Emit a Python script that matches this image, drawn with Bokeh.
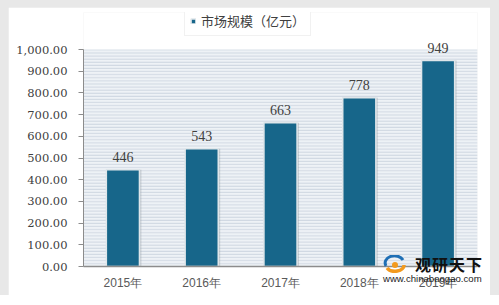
from bokeh.plotting import figure
from bokeh.models import (ColumnDataSource, NumeralTickFormatter, SingleIntervalTicker,
                          Legend, LegendItem, Range1d, Column, Div, BoxAnnotation)
from bokeh.transform import dodge
from bokeh.core.properties import value
from bokeh.embed import file_html
from bokeh.resources import INLINE

years = ["2015年", "2016年", "2017年", "2018年", "2019年"]
market = [446, 543, 663, 778, 949]
label_text = ["446", "543", "663", "778", "949"]
series_name = "市场规模（亿元）"
y_max = 1000

BAR = "#17668a"
src = ColumnDataSource(dict(x=years, top=market, lbl=label_text))

p = figure(x_range=years, y_range=Range1d(0, y_max * 254 / 217), width=482, height=290,
           output_backend="svg", toolbar_location=None,
           min_border_left=75, min_border_right=13, min_border_top=5, min_border_bottom=31)
p.border_fill_color = "white"
p.background_fill_color = "white"
p.outline_line_color = None

p.add_layout(BoxAnnotation(bottom=0, top=y_max, fill_color="#eef2f6", fill_alpha=1,
                           line_color=None, hatch_pattern="horizontal_line",
                           hatch_scale=3.1, hatch_color="#cfd8e1", hatch_weight=1,
                           level="underlay"))

# shadow
p.vbar(x=dodge("x", 0.025, range=p.x_range), top="top", width=0.42, source=src,
       fill_color="#8a949c", fill_alpha=0.35, line_color=None)
bars = p.vbar(x="x", top="top", width=0.42, source=src, fill_color=BAR,
              line_color="#dfe6ea", line_width=1.5)
p.text(x="x", y="top", text="lbl", source=src, text_align="center", text_baseline="bottom",
       y_offset=-8, text_font=value("Liberation Serif"), text_font_size="14px",
       text_color="#404040")

p.yaxis.ticker = SingleIntervalTicker(interval=100)
p.yaxis.bounds = (0, y_max)
p.yaxis.formatter = NumeralTickFormatter(format="0,0.00")
p.yaxis.major_label_text_font = "DejaVu Serif"
p.yaxis.major_label_text_font_size = "11.5px"
p.yaxis.major_label_text_color = "#404040"
p.yaxis.axis_line_color = "#8c8c8c"
p.yaxis.major_tick_line_color = "#8c8c8c"
p.yaxis.major_tick_out = 5
p.yaxis.major_tick_in = 0
p.yaxis.minor_tick_line_color = None
p.yaxis.major_label_standoff = 11

p.xaxis.axis_line_color = "#8c8c8c"
p.xaxis.axis_line_width = 1.5
p.xaxis.major_tick_line_color = None
p.xaxis.major_label_text_font = "Liberation Sans"
p.xaxis.major_label_text_font_size = "12px"
p.xaxis.major_label_text_color = "#595959"
p.xaxis.major_label_standoff = 3

p.xgrid.grid_line_color = None
p.ygrid.grid_line_color = None

legend = Legend(items=[LegendItem(label=series_name, renderers=[bars])],
                location=(101, 230), orientation="horizontal",
                label_text_font="Noto Sans CJK SC", label_text_font_size="13px",
                label_text_color="#404040", glyph_width=6, glyph_height=6,
                label_width=96, padding=5, margin=0, spacing=0, label_standoff=5,
                background_fill_color="white", border_line_color="#e4e4e4")
p.add_layout(legend, "center")

logo = (
    '<div style="display:flex;align-items:flex-start;font-family:\'Noto Sans CJK SC\';">'
    '<svg width="24" height="18" viewBox="0 0 24 18">'
    '<path d="M3 11 A9 7 0 0 1 20 5" stroke="#1f6fb5" stroke-width="3" fill="none"/>'
    '<path d="M4 13 A9 6 0 0 0 21 10" stroke="#f39a1e" stroke-width="3.5" fill="none"/>'
    '<circle cx="12" cy="10" r="3" fill="#f39a1e"/></svg>'
    '<div style="font-weight:bold;font-size:16px;color:#111;letter-spacing:1px;'
    'line-height:16px;margin-left:8px;margin-top:1px;">观研天下</div></div>'
    '<div style="font-family:\'Liberation Sans\';font-size:9.6px;color:#222;'
    'line-height:11px;margin-top:0px;white-space:nowrap;">www.chinabaogao.com</div>'
)
wm = Div(text=logo, width=112, height=32, margin=(-42, 0, 0, 375))

root = Column(p, wm, styles={"background-color": "#e8e8e8", "padding": "7px 9px 8px 8px"})
open("out.html", "w").write(file_html(root, INLINE))
